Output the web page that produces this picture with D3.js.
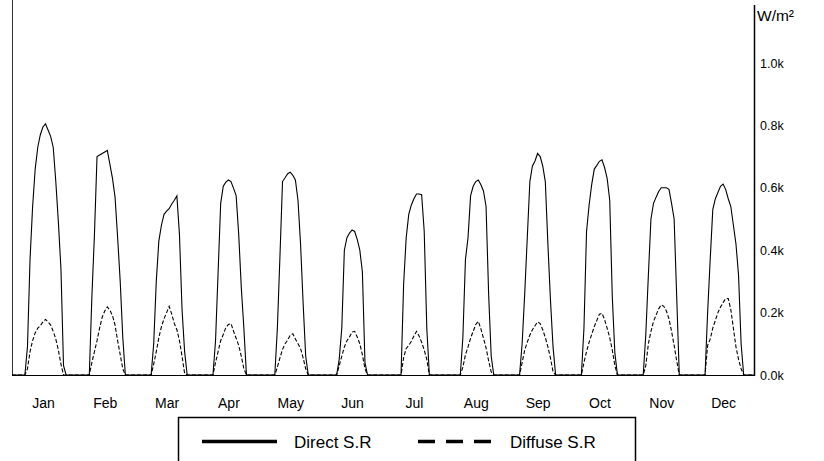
<!doctype html>
<html>
  <head>
    <meta charset="utf-8">
    <title>Direct and diffuse solar radiation</title>
    <script src="https://cdnjs.cloudflare.com/ajax/libs/d3/7.8.5/d3.min.js"></script>
    <style>
      body { margin: 0; background: #fff; }
      text { font-family: "Liberation Sans", Arial, sans-serif; fill: #000; }
    </style>
  </head>
  <body>
    <div id="chart"></div>
    <script>
      // months on the x axis, one 24-hour day profile each
      const months = ['Jan', 'Feb', 'Mar', 'Apr', 'May', 'Jun', 'Jul', 'Aug', 'Sep', 'Oct', 'Nov', 'Dec'];
      // hourly values, from 05:00 to 20:00 (other hours are 0)
      const firstHour = 5;
      const direct = [
        [0, 90, 370, 540, 660, 730, 770, 795, 805, 785, 765, 730, 620, 490, 340, 30],
        [0, 0, 250, 450, 700, 705, 710, 715, 720, 675, 630, 570, 440, 300, 120, 0],
        [0, 0, 100, 300, 430, 480, 515, 525, 533, 548, 560, 574, 450, 210, 75, 0],
        [0, 0, 110, 330, 550, 605, 618, 625, 620, 598, 575, 450, 280, 150, 0, 0],
        [0, 0, 150, 380, 620, 632, 645, 650, 640, 625, 560, 420, 230, 60, 0, 0],
        [0, 0, 50, 150, 400, 440, 455, 465, 460, 435, 400, 330, 40, 0, 0, 0],
        [0, 0, 0, 290, 440, 515, 545, 565, 580, 580, 578, 460, 150, 0, 0, 0],
        [0, 0, 120, 370, 440, 575, 605, 620, 625, 610, 590, 540, 260, 60, 0, 0],
        [0, 100, 260, 440, 620, 670, 686, 710, 700, 670, 620, 420, 240, 90, 0, 0],
        [0, 150, 460, 545, 610, 660, 672, 685, 690, 665, 630, 560, 250, 70, 0, 0],
        [0, 130, 320, 500, 550, 570, 588, 600, 600, 600, 595, 550, 500, 250, 0, 0],
        [0, 200, 370, 530, 565, 585, 605, 612, 595, 565, 540, 480, 420, 320, 100, 0]
      ];
      const diffuse = [
        [0, 20, 75, 110, 135, 150, 158, 170, 178, 170, 160, 140, 115, 80, 35, 0],
        [0, 0, 40, 75, 110, 150, 185, 205, 218, 208, 190, 160, 110, 65, 20, 0],
        [0, 0, 35, 75, 120, 155, 180, 200, 220, 195, 165, 145, 110, 60, 5, 0],
        [0, 0, 40, 75, 110, 130, 152, 162, 165, 140, 118, 95, 60, 20, 0, 0],
        [0, 0, 25, 55, 82, 100, 112, 128, 132, 115, 100, 85, 55, 20, 0, 0],
        [0, 0, 30, 60, 90, 110, 122, 138, 140, 122, 100, 65, 20, 0, 0, 0],
        [0, 0, 0, 55, 85, 95, 108, 125, 140, 125, 105, 80, 50, 0, 0, 0],
        [0, 0, 25, 65, 90, 118, 140, 162, 172, 148, 118, 87, 45, 10, 0, 0],
        [0, 40, 80, 105, 128, 145, 158, 170, 165, 145, 120, 90, 55, 10, 0, 0],
        [0, 40, 75, 105, 130, 155, 175, 195, 198, 178, 150, 120, 80, 30, 0, 0],
        [0, 30, 100, 140, 172, 192, 212, 225, 220, 205, 180, 140, 95, 45, 0, 0],
        [0, 95, 115, 150, 175, 200, 218, 232, 245, 245, 210, 150, 90, 50, 20, 0]
      ];
      const yTicks = [0, 200, 400, 600, 800, 1000];
      const seriesNames = ['Direct S.R', 'Diffuse S.R'];

      const width = 824, height = 461;
      const hoursPerDay = 24;

      // flatten month profiles into one hourly series
      function toHourly(byMonth) {
        const pts = [];
        byMonth.forEach((vals, m) => {
          for (let h = 0; h < hoursPerDay; h++) {
            const i = h - firstHour;
            pts.push({ t: m * hoursPerDay + h, v: (i >= 0 && i < vals.length) ? vals[i] : 0 });
          }
        });
        pts.push({ t: months.length * hoursPerDay, v: 0 });
        return pts;
      }

      const x = d3.scaleLinear().domain([0, months.length * hoursPerDay]).range([12, 754]);
      const y = d3.scaleLinear().domain([0, 1000]).range([375, 63]);

      const svg = d3.select('#chart').append('svg')
        .attr('width', width)
        .attr('height', height);

      const line = d3.line().x(d => x(d.t)).y(d => y(d.v));

      // frame lines
      svg.append('line')
        .attr('x1', 12.5).attr('x2', 12.5).attr('y1', 0).attr('y2', y(0))
        .attr('stroke', '#333').attr('stroke-width', 1);
      svg.append('line')
        .attr('x1', x.range()[1] + 0.5).attr('x2', x.range()[1] + 0.5).attr('y1', 5).attr('y2', y(0) + 1)
        .attr('stroke', '#000').attr('stroke-width', 1.5);

      // curves
      svg.append('path')
        .datum(toHourly(diffuse))
        .attr('d', line)
        .attr('fill', 'none')
        .attr('stroke', '#000')
        .attr('stroke-width', 1.1)
        .attr('stroke-dasharray', '4,2');

      svg.append('path')
        .datum(toHourly(direct))
        .attr('d', line)
        .attr('fill', 'none')
        .attr('stroke', '#000')
        .attr('stroke-width', 1.1);

      svg.append('line')
        .attr('x1', 12).attr('x2', x.range()[1]).attr('y1', y(0) + 0.5).attr('y2', y(0) + 0.5)
        .attr('stroke', '#000').attr('stroke-width', 1.2);

      // month labels
      const xAxis = svg.append('g')
        .attr('transform', `translate(0,${y(0)})`)
        .call(d3.axisBottom(x)
          .tickValues(months.map((m, i) => i * hoursPerDay + hoursPerDay / 2))
          .tickFormat((d, i) => months[i])
          .tickSize(0)
          .tickPadding(33));
      xAxis.select('.domain').remove();
      xAxis.selectAll('text')
        .attr('font-size', 14)
        .attr('dy', 0);

      // value labels on the right
      const yAxis = svg.append('g')
        .attr('transform', `translate(${x.range()[1]},0)`)
        .call(d3.axisRight(y)
          .tickValues(yTicks)
          .tickFormat(d => (d / 1000).toFixed(1) + 'k')
          .tickSize(0)
          .tickPadding(6));
      yAxis.select('.domain').remove();
      yAxis.selectAll('text')
        .attr('font-size', 12.5);

      svg.append('text')
        .attr('x', 757)
        .attr('y', 21)
        .attr('font-size', 15.5)
        .text('W/m²');

      // legend
      const legend = svg.append('g');
      legend.append('rect')
        .attr('x', 178.5).attr('y', 417.5)
        .attr('width', 457).attr('height', 60)
        .attr('fill', 'none').attr('stroke', '#000').attr('stroke-width', 1.5);

      const legendY = 441.5;
      // solid sample
      legend.append('line')
        .attr('x1', 202).attr('x2', 277)
        .attr('y1', legendY).attr('y2', legendY)
        .attr('stroke', '#000').attr('stroke-width', 3.5);
      legend.append('text')
        .attr('x', 294).attr('y', 448)
        .attr('font-size', 17)
        .text(seriesNames[0]);

      // dashed sample: three dashes
      const dashLen = 17, dashGap = 11;
      legend.selectAll('line.dash')
        .data([0, 1, 2])
        .join('line')
        .attr('class', 'dash')
        .attr('x1', i => 418 + i * (dashLen + dashGap))
        .attr('x2', i => 418 + i * (dashLen + dashGap) + dashLen)
        .attr('y1', legendY).attr('y2', legendY)
        .attr('stroke', '#000').attr('stroke-width', 3.5);
      legend.append('text')
        .attr('x', 510).attr('y', 448)
        .attr('font-size', 17)
        .text(seriesNames[1]);
    </script>
  </body>
</html>
